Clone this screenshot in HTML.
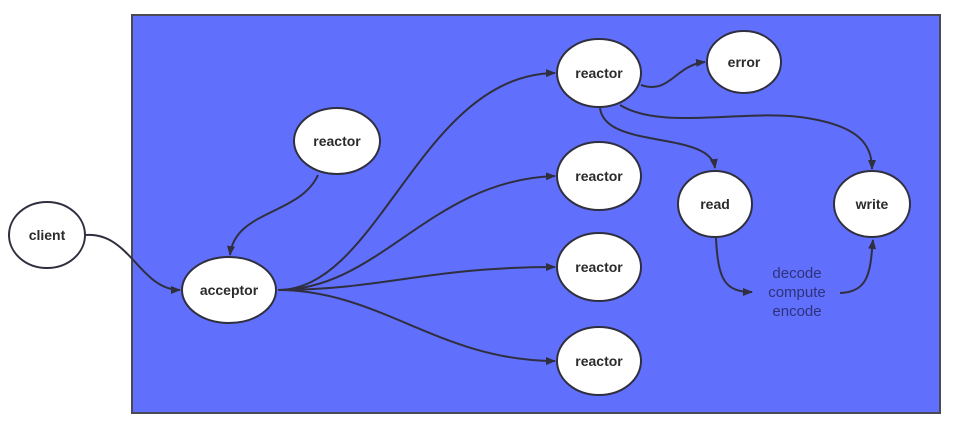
<!DOCTYPE html>
<html><head><style>
body{margin:0;background:#fff;}
svg text{font-family:"Comic Sans MS","Liberation Sans",sans-serif;font-weight:bold;font-size:14px;fill:#2b2b2b;}
</style></head><body>
<svg width="954" height="426" xmlns="http://www.w3.org/2000/svg">
<defs><marker id="a" markerWidth="10" markerHeight="8" refX="9" refY="4" orient="auto" markerUnits="userSpaceOnUse"><path d="M0,0 L10,4 L0,8 z" fill="#2f2f3f"/></marker></defs>
<rect x="132" y="15" width="808" height="398" fill="#6070fc" stroke="#4a4a55" stroke-width="2"/>
<g fill="none" stroke="#2f2f3f" stroke-width="2" marker-end="url(#a)">
<path d="M86,235 C130,232 140,290 180,290"/>
<path d="M318,175 C300,215 235,210 230,255"/>
<path d="M278,290 C380,290 420,75 555,73"/>
<path d="M278,290 C380,290 430,180 555,176"/>
<path d="M278,290 C380,290 430,267 555,267"/>
<path d="M278,290 C380,290 440,361 555,361"/>
<path d="M641,85 C670,95 675,65 705,62"/>
<path d="M600,108 C605,150 710,130 715,168"/>
<path d="M620,105 C660,130 740,110 800,117 C860,125 872,145 872,169"/>
<path d="M716,238 C718,280 725,292 752,292"/>
<path d="M840,293 C870,292 870,270 873,240"/>
</g>
<g fill="#fff" stroke="#2f2f3f" stroke-width="2">
<ellipse cx="47" cy="235" rx="38" ry="33"/>
<ellipse cx="229" cy="290" rx="47" ry="33"/>
<ellipse cx="337" cy="141" rx="43" ry="33"/>
<ellipse cx="599" cy="73" rx="42" ry="34"/>
<ellipse cx="744" cy="62" rx="37" ry="31"/>
<ellipse cx="599" cy="176" rx="42" ry="34"/>
<ellipse cx="599" cy="267" rx="42" ry="34"/>
<ellipse cx="599" cy="361" rx="42" ry="34"/>
<ellipse cx="715" cy="204" rx="37" ry="33"/>
<ellipse cx="872" cy="204" rx="38" ry="33"/>
</g>
<g text-anchor="middle">
<text x="47" y="240">client</text>
<text x="229" y="295">acceptor</text>
<text x="337" y="146">reactor</text>
<text x="599" y="78">reactor</text>
<text x="744" y="67">error</text>
<text x="599" y="181">reactor</text>
<text x="599" y="272">reactor</text>
<text x="599" y="366">reactor</text>
<text x="715" y="209">read</text>
<text x="872" y="209">write</text>
<text x="797" y="278" style="font-weight:normal;font-size:15px;fill:#2e327a;font-family:'Liberation Sans',sans-serif">decode</text>
<text x="797" y="297" style="font-weight:normal;font-size:15px;fill:#2e327a;font-family:'Liberation Sans',sans-serif">compute</text>
<text x="797" y="316" style="font-weight:normal;font-size:15px;fill:#2e327a;font-family:'Liberation Sans',sans-serif">encode</text>
</g>
</svg>
</body></html>
